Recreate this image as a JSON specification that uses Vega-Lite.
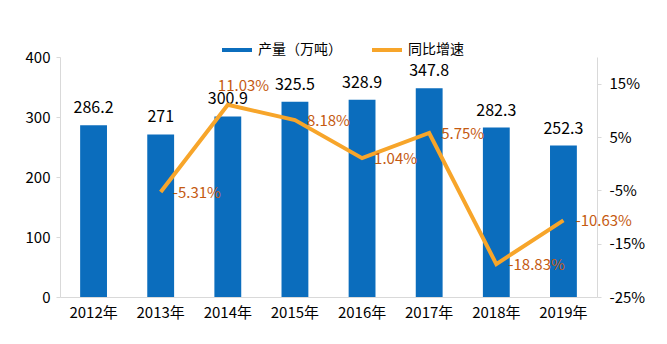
{
  "$schema": "https://vega.github.io/schema/vega-lite/v6.json",
  "autosize": "none",
  "width": 537,
  "height": 240,
  "padding": {"left": 60, "top": 57, "right": 70, "bottom": 47},
  "background": "white",
  "config": {
    "font": "Noto Sans CJK SC",
    "view": {"stroke": null}
  },
  "data": {
    "values": [
      {"year": "2012年", "output": 286.2, "rate": null},
      {"year": "2013年", "output": 271, "rate": -5.31},
      {"year": "2014年", "output": 300.9, "rate": 11.03},
      {"year": "2015年", "output": 325.5, "rate": 8.18},
      {"year": "2016年", "output": 328.9, "rate": 1.04},
      {"year": "2017年", "output": 347.8, "rate": 5.75},
      {"year": "2018年", "output": 282.3, "rate": -18.83},
      {"year": "2019年", "output": 252.3, "rate": -10.63}
    ]
  },
  "encoding": {
    "x": {
      "field": "year",
      "type": "nominal",
      "sort": null,
      "scale": {"paddingInner": 0.6, "paddingOuter": 0.3},
      "axis": {
        "title": null,
        "labelAngle": 0,
        "labelFontSize": 15,
        "labelColor": "#000000",
        "labelPadding": 8,
        "ticks": false,
        "domainColor": "#d9d9d9",
        "grid": false
      }
    }
  },
  "layer": [
    {
      "encoding": {
        "y": {
          "field": "output",
          "type": "quantitative",
          "scale": {"domain": [0, 400]},
          "axis": {
            "title": null,
            "values": [0, 100, 200, 300, 400],
            "labelFontSize": 15,
            "labelColor": "#000000",
            "labelPadding": 6,
            "tickSize": 4,
            "tickColor": "#d9d9d9",
            "domainColor": "#d9d9d9",
            "grid": false
          }
        }
      },
      "layer": [
        {
          "mark": {"type": "bar"},
          "encoding": {
            "color": {
              "datum": "产量（万吨）",
              "type": "nominal",
              "scale": {
                "domain": ["产量（万吨）", "同比增速"],
                "range": ["#0B6DBD", "#F7A52A"]
              },
              "legend": {
                "title": null,
                "orient": "none",
                "direction": "horizontal",
                "legendX": 160,
                "legendY": -24,
                "symbolType": "stroke",
                "symbolStrokeWidth": 4,
                "symbolSize": 900,
                "labelFontSize": 14,
                "labelColor": "#000000",
                "labelOffset": 4,
                "columnPadding": 22
              }
            }
          }
        },
        {
          "mark": {"type": "text", "fontSize": 16, "color": "#000000", "dy": -17},
          "encoding": {"text": {"field": "output", "type": "quantitative"}}
        }
      ]
    },
    {
      "transform": [
        {"filter": "datum.rate != null"},
        {"calculate": "datum.rate + '%'", "as": "rateLabel"}
      ],
      "encoding": {
        "y": {
          "field": "rate",
          "type": "quantitative",
          "scale": {"domain": [-25, 20], "nice": false, "zero": false},
          "axis": {
            "title": null,
            "orient": "right",
            "values": [-25, -15, -5, 5, 15],
            "labelExpr": "datum.value + '%'",
            "labelFontSize": 15,
            "labelColor": "#000000",
            "labelPadding": 8,
            "tickSize": 4,
            "tickColor": "#d9d9d9",
            "domainColor": "#d9d9d9",
            "grid": false
          }
        }
      },
      "layer": [
        {
          "mark": {"type": "line", "strokeWidth": 4},
          "encoding": {
            "color": {"datum": "同比增速", "type": "nominal"}
          }
        },
        {
          "transform": [{"filter": "datum.year != '2014年'"}],
          "mark": {"type": "text", "fontSize": 15, "color": "#C55A11", "align": "left", "dx": 12, "dy": 1},
          "encoding": {"text": {"field": "rateLabel", "type": "nominal"}}
        },
        {
          "transform": [{"filter": "datum.year == '2014年'"}],
          "mark": {"type": "text", "fontSize": 15, "color": "#C55A11", "align": "left", "dx": -10, "dy": -19},
          "encoding": {"text": {"field": "rateLabel", "type": "nominal"}}
        }
      ]
    }
  ],
  "resolve": {"scale": {"y": "independent"}}
}
